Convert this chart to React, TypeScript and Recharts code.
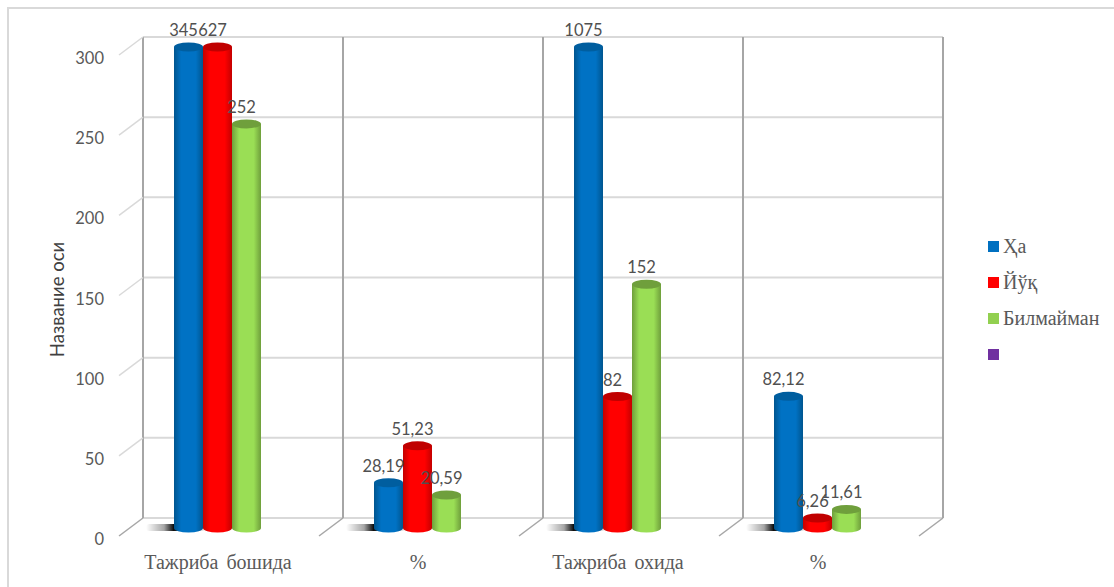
import React from "react";
import { BarChart, Bar, XAxis, YAxis, CartesianGrid, Legend, LabelList } from "recharts";

const categories = ["Тажриба бошида", "%", "Тажриба охида", "%"];
const seriesNames = ["Ҳа", "Йўқ", "Билмайман", ""];
const seriesColors = ["#0070c0", "#ff0000", "#92d050", "#7030a0"];
const haValues = [345, 28.19, 1075, 82.12];
const yoqValues = [627, 51.23, 82, 6.26];
const bilmaymanValues = [252, 20.59, 152, 11.61];
const yTicks = [0, 50, 100, 150, 200, 250, 300];
const axisTop = 300;
const axisTitle = "Название оси";

const data = categories.map((name, i) => ({
  name,
  key: i,
  ha: haValues[i],
  yoq: yoqValues[i],
  bilmayman: bilmaymanValues[i],
}));

// The 3D look: marks stand on a floor in front of the back wall.
const DX = -26;
const DY = 10;
const RY = 4.5;

const palettes = [
  { id: "cylBlue", edge: "#00558f", mid: "#0072c4", top: "#005e9f" },
  { id: "cylRed", edge: "#c40000", mid: "#ff0000", top: "#c00000" },
  { id: "cylGreen", edge: "#6f9f3c", mid: "#9ade55", top: "#6f9f3c" },
];

const clip = (v: number) => Math.min(v, axisTop);

function cylinder(seriesIndex: number) {
  return (props: any) => {
    const { x, y, width, height } = props;
    const p = palettes[seriesIndex];
    const left = x + DX;
    const top = y + DY;
    const bottom = top + height;
    const cx = left + width / 2;
    const rx = width / 2;
    return (
      <g>
        {seriesIndex === 0 && (
          <rect x={left - 28} y={bottom - 4} width={60} height={7} rx={3.5} fill="url(#floorShadow)" />
        )}
        <path
          d={`M${left},${top} L${left},${bottom} A${rx},${RY} 0 0 0 ${left + width},${bottom} L${left + width},${top} Z`}
          fill={`url(#${p.id})`}
        />
        <ellipse cx={cx} cy={top} rx={rx} ry={RY} fill={p.top} />
      </g>
    );
  };
}

function dataLabel(props: any) {
  const { x, y, width, value } = props;
  const text = String(value).replace(".", ",");
  return (
    <text
      x={x + width / 2 + DX - 5}
      y={y + DY - 11}
      textAnchor="middle"
      fontFamily="Lato"
      fontSize={16.5}
      fill="#505050"
    >
      {text}
    </text>
  );
}

function YTick(props: any) {
  const { x, y, payload } = props;
  const px = x + 8;
  const isZero = payload.value === 0;
  return (
    <g>
      <line x1={px} y1={y} x2={px + DX + 2} y2={y + 18} stroke={isZero ? "#a6a6a6" : "#d9d9d9"} strokeWidth={1.5} />
      <text x={px - 39} y={y + 27} textAnchor="end" fontFamily="Lato" fontSize={16.5} fill="#595959">
        {payload.value}
      </text>
    </g>
  );
}

function XTick(props: any) {
  const { x, y, payload, width, visibleTicksCount, index } = props;
  const band = width / visibleTicksCount;
  const edge = x - band / 2;
  const last = index === visibleTicksCount - 1;
  const py = y - 8;
  const seg = (sx: number) => (
    <line x1={sx} y1={py} x2={sx + DX + 2} y2={py + 18} stroke="#a6a6a6" strokeWidth={1.5} />
  );
  return (
    <g>
      {index > 0 && seg(edge)}
      {last && seg(edge + band)}
      <text
        x={x + DX + 1}
        y={y + 43}
        textAnchor="middle"
        fontFamily="Liberation Serif"
        fontSize={20}
        wordSpacing={3}
        fill="#595959"
      >
        {categories[payload.value]}
      </text>
    </g>
  );
}

function LegendBox() {
  return (
    <div style={{ fontFamily: "Liberation Serif", fontSize: 20, color: "#595959" }}>
      {seriesNames.map((n, i) => (
        <div key={i} style={{ height: 36, display: "flex", alignItems: "center" }}>
          <span style={{ width: 11, height: 11, background: seriesColors[i], marginRight: 4, display: "inline-block" }} />
          <span style={{ whiteSpace: "nowrap" }}>{n}</span>
        </div>
      ))}
    </div>
  );
}

const verticalLines = ({ offset }: any) =>
  categories.map((_, i) => offset.left + (offset.width * i) / categories.length).concat(offset.left + offset.width);

export default function App() {
  return (
    <div
      style={{
        position: "absolute",
        left: 0,
        top: 0,
        width: 1114,
        height: 587,
        background: "#fff",
        overflow: "hidden",
      }}
    >
      <div
        style={{
          position: "absolute",
          left: 7,
          top: 7,
          width: 1200,
          height: 700,
          border: "2px solid #d9d9d9",
        }}
      />
      <BarChart
        width={1114}
        height={587}
        data={data}
        barSize={29}
        barGap={0}
        margin={{ top: 37, right: 45, bottom: 0, left: 40 }}
        style={{ position: "absolute", left: 0, top: 0 }}
      >
        <defs>
          {palettes.map((p) => (
            <linearGradient key={p.id} id={p.id} x1="0" y1="0" x2="1" y2="0">
              <stop offset="0" stopColor={p.edge} />
              <stop offset="0.25" stopColor={p.mid} />
              <stop offset="0.75" stopColor={p.mid} />
              <stop offset="1" stopColor={p.edge} />
            </linearGradient>
          ))}
          <linearGradient id="floorShadow" x1="0" y1="0" x2="1" y2="0">
            <stop offset="0" stopColor="#000" stopOpacity="0" />
            <stop offset="0.3" stopColor="#000" stopOpacity="0.35" />
            <stop offset="0.46" stopColor="#000" stopOpacity="0.95" />
            <stop offset="1" stopColor="#000" stopOpacity="0" />
          </linearGradient>
        </defs>
        <CartesianGrid vertical={false} stroke="#d9d9d9" strokeWidth={2} syncWithTicks />
        <CartesianGrid horizontal={false} stroke="#a6a6a6" strokeWidth={2} verticalCoordinatesGenerator={verticalLines} />
        <XAxis dataKey="key" height={69} axisLine={false} tickLine={false} tick={XTick} interval={0} />
        <YAxis
          domain={[0, axisTop]}
          ticks={yTicks}
          width={103}
          axisLine={false}
          tickLine={false}
          tick={YTick}
          label={{
            value: axisTitle,
            angle: -90,
            position: "insideLeft",
            dx: 12,
            dy: 22,
            style: { fontFamily: "Lato", fontSize: 18.5, fill: "#404040", textAnchor: "middle" },
          }}
        />
        <Legend
          layout="vertical"
          align="right"
          verticalAlign="top"
          content={LegendBox}
          wrapperStyle={{ left: 988, top: 228, width: 126 }}
        />
        <Bar dataKey={(d: any) => clip(d.ha)} name={seriesNames[0]} fill={seriesColors[0]} shape={cylinder(0)} isAnimationActive={false}>
          <LabelList dataKey="ha" content={dataLabel} />
        </Bar>
        <Bar dataKey={(d: any) => clip(d.yoq)} name={seriesNames[1]} fill={seriesColors[1]} shape={cylinder(1)} isAnimationActive={false}>
          <LabelList dataKey="yoq" content={dataLabel} />
        </Bar>
        <Bar dataKey={(d: any) => clip(d.bilmayman)} name={seriesNames[2]} fill={seriesColors[2]} shape={cylinder(2)} isAnimationActive={false}>
          <LabelList dataKey="bilmayman" content={dataLabel} />
        </Bar>
      </BarChart>
    </div>
  );
}
